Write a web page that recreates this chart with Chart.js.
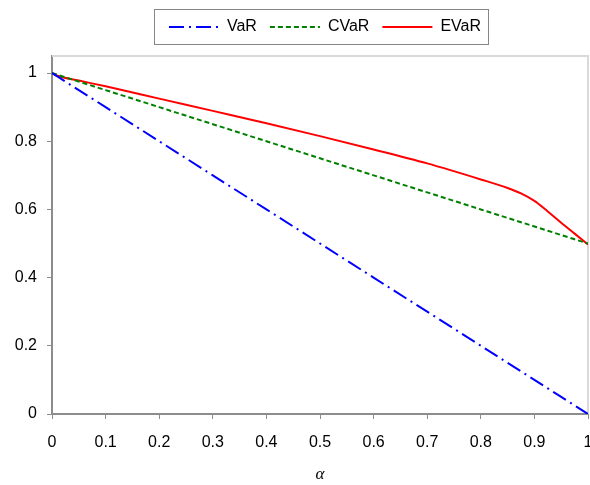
<!DOCTYPE html>
<html>
<head>
<meta charset="utf-8">
<title>VaR CVaR EVaR</title>
<script src="https://cdn.jsdelivr.net/npm/chart.js@4.4.0/dist/chart.umd.min.js"></script>
<style>
  body { margin: 0; background: #fff; }
  #wrap { width: 590px; height: 485px; }
</style>
</head>
<body>
<div id="wrap"><canvas id="myChart" width="590" height="485"></canvas></div>
<script>
var alpha = [0, 0.01, 0.05, 0.1, 0.2, 0.3, 0.4, 0.5, 0.6, 0.7, 0.8, 0.85, 0.875, 0.9, 0.925, 0.95, 0.975, 1];
var varVals = [1, 0.99, 0.95, 0.9, 0.8, 0.7, 0.6, 0.5, 0.4, 0.3, 0.2, 0.15, 0.125, 0.1, 0.075, 0.05, 0.025, 0];
var cvarVals = [1, 0.995, 0.975, 0.95, 0.9, 0.85, 0.8, 0.75, 0.7, 0.65, 0.6, 0.575, 0.5625, 0.55, 0.5375, 0.525, 0.5125, 0.5];
var evarVals = [1, 0.992, 0.978, 0.961, 0.925, 0.889, 0.853, 0.815, 0.776, 0.735, 0.688, 0.663, 0.647, 0.625, 0.594, 0.561, 0.529, 0.497];
var xTicks = [0, 0.1, 0.2, 0.3, 0.4, 0.5, 0.6, 0.7, 0.8, 0.9, 1];
var yTicks = [0, 0.2, 0.4, 0.6, 0.8, 1];

function pts(vals) {
  var out = [];
  for (var i = 0; i < alpha.length; i++) out.push({x: alpha[i], y: vals[i]});
  return out;
}

var FONT = "'Liberation Sans', Arial, sans-serif";
var AXIS = "#8c8c8c";
var LEGEND_DX = 31;

// extra room under the legend, legend shifted over the plot, frame + legend box
var framePlugin = {
  id: "frame",
  afterInit: function(chart) {
    var lg = chart.legend;
    if (!lg || lg._padded) return;
    var fit = lg.fit;
    lg.fit = function() { fit.call(this); this.height += 11; };
    lg._padded = true;
  },
  beforeDraw: function(chart) {
    var lg = chart.legend;
    lg.left += LEGEND_DX;
    lg.right += LEGEND_DX;
  },
  beforeDatasetsDraw: function(chart) {
    var a = chart.chartArea, ctx = chart.ctx;
    ctx.save();
    ctx.strokeStyle = "#d9d9d9";
    ctx.lineWidth = 2;
    ctx.beginPath();
    ctx.moveTo(a.left, a.top);
    ctx.lineTo(a.right, a.top);
    ctx.lineTo(a.right, a.bottom);
    ctx.stroke();
    ctx.restore();
  },
  afterDraw: function(chart) {
    var lg = chart.legend, ctx = chart.ctx;
    var hb = lg.legendHitBoxes;
    if (!hb || !hb.length) return;
    var last = hb[hb.length - 1];
    var x0 = hb[0].left + LEGEND_DX - 15, x1 = last.left + last.width + LEGEND_DX + 7;
    var y0 = hb[0].top - 10, y1 = hb[0].top + hb[0].height + 9;
    ctx.save();
    ctx.strokeStyle = "#868686";
    ctx.lineWidth = 1;
    ctx.strokeRect(Math.round(x0) + 0.5, Math.round(y0) + 0.5, Math.round(x1 - x0), Math.round(y1 - y0));
    ctx.restore();
  }
};

new Chart(document.getElementById("myChart"), {
  type: "line",
  data: {
    datasets: [
      { label: "VaR", data: pts(varVals), borderColor: "#0000ff", backgroundColor: "#0000ff",
        borderWidth: 2, borderDash: [15, 5, 2, 5], pointRadius: 0, tension: 0 },
      { label: "CVaR", data: pts(cvarVals), borderColor: "#008000", backgroundColor: "#008000",
        borderWidth: 2, borderDash: [5, 3], pointRadius: 0, tension: 0 },
      { label: "EVaR", data: pts(evarVals), borderColor: "#ff0000", backgroundColor: "#ff0000",
        borderWidth: 2, pointRadius: 0, cubicInterpolationMode: "monotone" }
    ]
  },
  options: {
    responsive: false,
    animation: false,
    devicePixelRatio: 1,
    layout: { padding: { left: 0, right: 2, top: 6, bottom: 0 } },
    plugins: {
      tooltip: { enabled: false },
      legend: {
        position: "top",
        labels: {
          usePointStyle: true,
          pointStyle: "line",
          pointStyleWidth: 50,
          boxHeight: 16,
          padding: 13,
          color: "#000",
          font: { family: FONT, size: 16 },
          generateLabels: function(chart) {
            var items = Chart.defaults.plugins.legend.labels.generateLabels(chart);
            items.forEach(function(it) {
              var ds = chart.data.datasets[it.datasetIndex];
              it.lineDash = ds.borderDash || [];
              it.lineWidth = 2;
              it.strokeStyle = ds.borderColor;
            });
            return items;
          }
        }
      }
    },
    scales: {
      x: {
        type: "linear",
        min: 0, max: 1,
        afterBuildTicks: function(s) { s.ticks = xTicks.map(function(v) { return {value: v}; }); },
        afterFit: function(s) { s.paddingLeft = 0; s.paddingRight = 0; s.height = 71; },
        border: { color: AXIS, width: 2 },
        grid: { drawOnChartArea: false, drawTicks: true, tickLength: 5, color: AXIS },
        ticks: { color: "#000", padding: 14, maxRotation: 0, font: { family: FONT, size: 16 },
          callback: function(v) { return String(Math.round(v * 10) / 10); } },
        title: { display: true, text: "α", color: "#000", padding: { top: 2, bottom: 0 },
          font: { family: "'Liberation Serif', 'Times New Roman', serif", size: 17, style: "italic" } }
      },
      y: {
        min: 0, max: 1.05,
        afterBuildTicks: function(s) { s.ticks = yTicks.map(function(v) { return {value: v}; }); },
        afterFit: function(s) { s.width = 52; },
        border: { color: AXIS, width: 2 },
        grid: { drawOnChartArea: false, drawTicks: true, tickLength: 5, color: AXIS },
        ticks: { color: "#000", padding: 10, font: { family: FONT, size: 16 },
          callback: function(v) { return String(Math.round(v * 10) / 10); } }
      }
    }
  },
  plugins: [framePlugin]
});
</script>
</body>
</html>
